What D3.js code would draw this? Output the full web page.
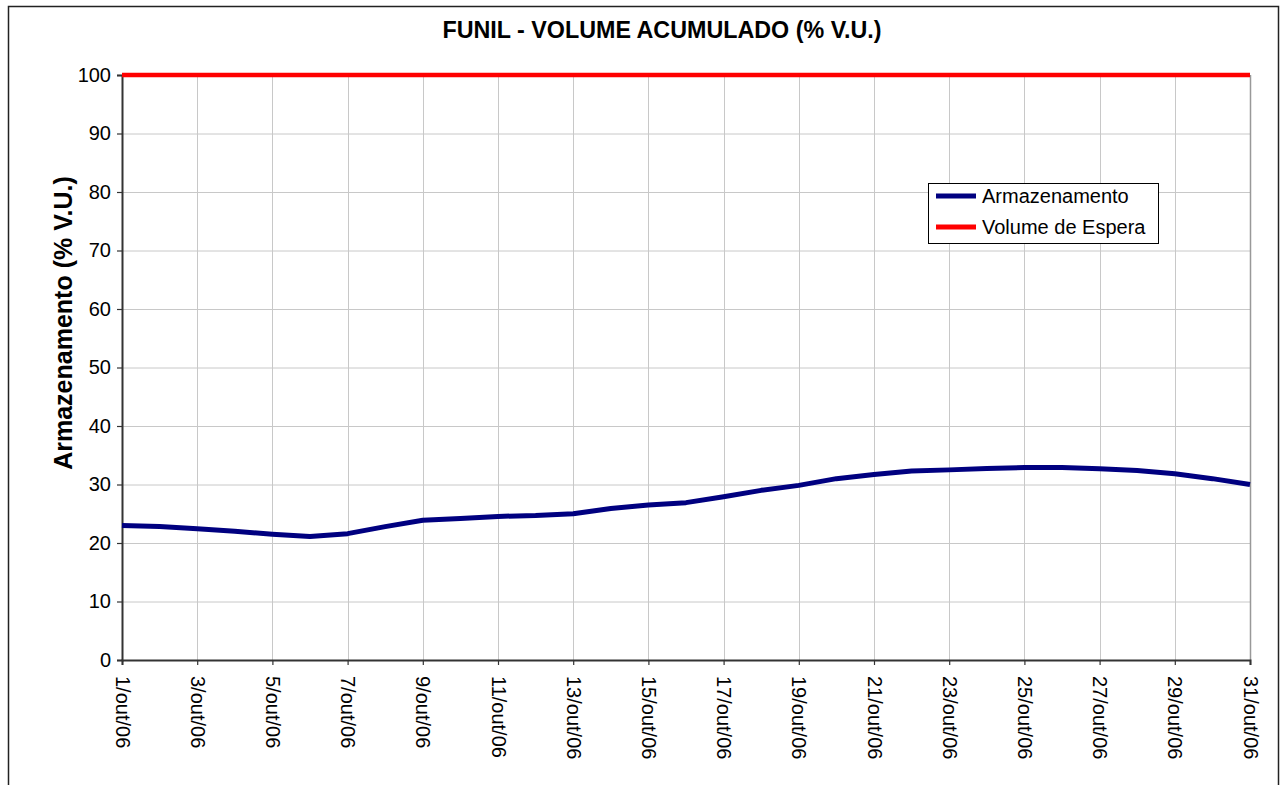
<!DOCTYPE html>
<html>
<head>
<meta charset="utf-8">
<script src="https://cdn.jsdelivr.net/npm/d3@7"></script>
<style>
  body { margin: 0; background: #fff; }
  svg { font-family: Arial, "Liberation Sans", sans-serif; }
</style>
</head>
<body>
<div id="container"></div>
<script>
// data
var days = d3.range(1, 32);
var armazenamento = [
  23.0, 22.8, 22.45, 22.0, 21.5, 21.1, 21.6, 22.8, 23.9, 24.2,
  24.55, 24.7, 25.0, 25.9, 26.5, 26.9, 27.9, 29.0, 29.85, 31.0,
  31.7, 32.3, 32.5, 32.75, 32.9, 32.9, 32.7, 32.4, 31.85, 31.0, 30.0
];
var volumeEspera = days.map(function () { return 100; });
var tickDays = [1, 3, 5, 7, 9, 11, 13, 15, 17, 19, 21, 23, 25, 27, 29, 31];
var yTicks = [0, 10, 20, 30, 40, 50, 60, 70, 80, 90, 100];
var seriesNames = ["Armazenamento", "Volume de Espera"];
var seriesColors = ["#000080", "#ff0000"];

var W = 1283, H = 785;
var m = { left: 122, right: 1250, top: 75, bottom: 660 };

var svg = d3.select("#container").append("svg")
  .attr("width", W).attr("height", H);

// outer frame
svg.append("rect")
  .attr("x", 8.5).attr("y", 6.5)
  .attr("width", 1270).attr("height", 820)
  .attr("fill", "#fff").attr("stroke", "#222").attr("stroke-width", 1.5);

var x = d3.scaleLinear().domain([1, 31]).range([m.left, m.right]);
var y = d3.scaleLinear().domain([0, 100]).range([m.bottom, m.top]);

// grid
var grid = svg.append("g");
grid.selectAll(".hg").data(yTicks).enter().append("line")
  .attr("x1", m.left).attr("x2", m.right)
  .attr("y1", function (d) { return y(d) + 0.5; })
  .attr("y2", function (d) { return y(d) + 0.5; })
  .attr("stroke", "#c8c8c8").attr("stroke-width", 1);
grid.selectAll(".vg").data(tickDays).enter().append("line")
  .attr("x1", function (d) { return Math.round(x(d)) + 0.5; })
  .attr("x2", function (d) { return Math.round(x(d)) + 0.5; })
  .attr("y1", m.top).attr("y2", m.bottom)
  .attr("stroke", function (d) { return d === 31 ? "#999" : "#c8c8c8"; })
  .attr("stroke-width", function (d) { return d === 31 ? 1.5 : 1; });

// axes
var yAxis = svg.append("g")
  .attr("transform", "translate(" + m.left + ",0)")
  .call(d3.axisLeft(y).tickValues(yTicks).tickSize(5).tickPadding(6));
var xAxis = svg.append("g")
  .attr("transform", "translate(0," + m.bottom + ")")
  .call(d3.axisBottom(x).tickValues(tickDays).tickSize(5)
    .tickFormat(function (d) { return d + "/out/06"; }));

[yAxis, xAxis].forEach(function (a) {
  a.select(".domain").attr("stroke", "#333").attr("stroke-width", 2);
  a.selectAll(".tick line").attr("stroke", "#333").attr("stroke-width", 1.2);
  a.selectAll("text").attr("fill", "#000").style("font-size", "20px")
    .style("font-family", "Arial, 'Liberation Sans', sans-serif");
});

xAxis.selectAll(".tick text")
  .attr("transform", "rotate(90)")
  .attr("text-anchor", "start")
  .attr("x", 16).attr("y", 0).attr("dy", "0.35em");

// lines
var line = d3.line()
  .x(function (d, i) { return x(days[i]); })
  .y(function (d) { return y(d); });

svg.append("path").datum(volumeEspera)
  .attr("d", line).attr("fill", "none")
  .attr("stroke", seriesColors[1]).attr("stroke-width", 4.5);

svg.append("path").datum(armazenamento)
  .attr("d", line).attr("fill", "none")
  .attr("stroke", seriesColors[0]).attr("stroke-width", 5)
  .attr("stroke-linejoin", "round");

// title
svg.append("text")
  .attr("x", 662).attr("y", 38)
  .attr("text-anchor", "middle")
  .style("font-size", "23.3px").style("font-weight", "bold")
  .text("FUNIL - VOLUME ACUMULADO (% V.U.)");

// y label
svg.append("text")
  .attr("transform", "translate(72,323) rotate(-90)")
  .attr("text-anchor", "middle")
  .style("font-size", "25px").style("font-weight", "bold")
  .text("Armazenamento (% V.U.)");

// legend
var lg = svg.append("g").attr("transform", "translate(928,183)");
lg.append("rect")
  .attr("x", 0.5).attr("y", 0.5).attr("width", 230).attr("height", 60)
  .attr("fill", "#fff").attr("stroke", "#000").attr("stroke-width", 1);
var items = lg.selectAll(".item").data(seriesNames).enter().append("g")
  .attr("transform", function (d, i) { return "translate(0," + (13 + i * 31) + ")"; });
items.append("line")
  .attr("x1", 8).attr("x2", 48)
  .attr("stroke", function (d, i) { return seriesColors[i]; })
  .attr("stroke-width", 5);
items.append("text")
  .attr("x", 54).attr("dy", "0.35em")
  .style("font-size", "20px")
  .text(function (d) { return d; });
</script>
</body>
</html>
